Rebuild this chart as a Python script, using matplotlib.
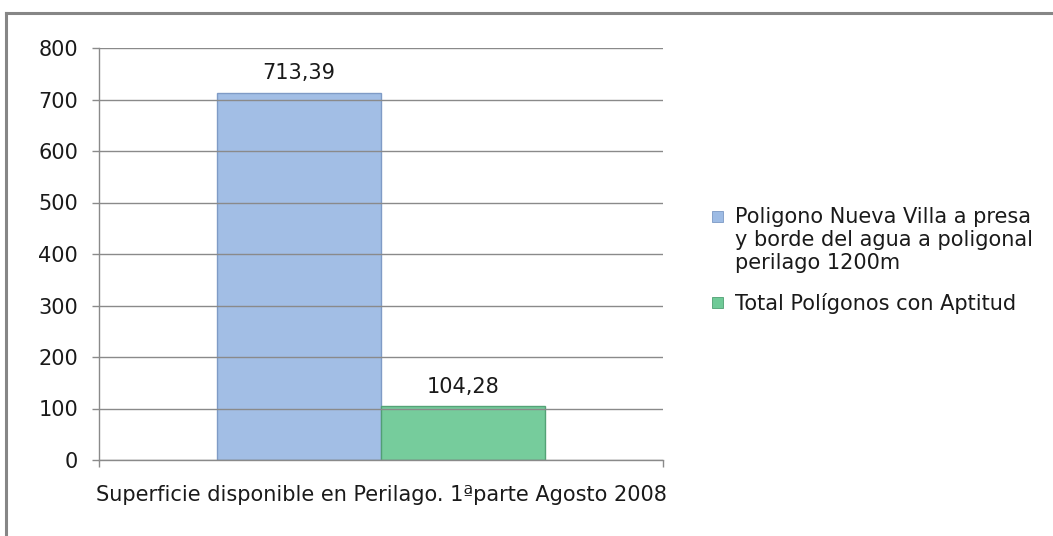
import matplotlib
matplotlib.use("Agg")
import matplotlib.pyplot as plt
from matplotlib.lines import Line2D
from matplotlib.patches import Rectangle

plt.rcParams['font.family'] = ['DejaVu Sans']

category = "Superficie disponible en Perilago. 1ªparte Agosto 2008"
series_names = ["Poligono Nueva Villa a presa\ny borde del agua a poligonal\nperilago 1200m",
                "Total Polígonos con Aptitud"]
values = [713.39, 104.28]
value_labels = ["713,39", "104,28"]
colors = ["#9dbbe4", "#6fca97"]
edge_colors = ["#7b98c4", "#4f9f72"]
yticks = [0, 100, 200, 300, 400, 500, 600, 700, 800]

FS = 15
TXT = "#1a1a1a"
W, H = 1053, 536
fig = plt.figure(figsize=(W / 100, H / 100), dpi=100)
fig.patch.set_facecolor("white")
ax = fig.add_axes([99 / W, (H - 460) / H, 564 / W, 412 / H])

bar_w = 0.29
offsets = [-bar_w / 2, bar_w / 2]
for i, (v, c, ec, lab) in enumerate(zip(values, colors, edge_colors, value_labels)):
    ax.bar(offsets[i], v, width=bar_w, color=c, edgecolor=ec, linewidth=1.0,
           zorder=2, alpha=0.95)
    ax.annotate(lab, (offsets[i], v), xytext=(0, 7), textcoords="offset points",
                ha="center", va="bottom", fontsize=FS, color=TXT)

ax.set_xlim(-0.5, 0.5)
ax.set_ylim(0, 800)
ax.set_yticks(yticks)
ax.set_yticklabels([str(t) for t in yticks], fontsize=FS, color=TXT)
ax.yaxis.grid(True, color="#8a8a8a", linewidth=1.0, zorder=3)
ax.set_axisbelow(False)
ax.tick_params(axis="y", length=5, width=1, color="#8a8a8a", pad=10, direction="out")

ax.set_xticks([0])
ax.set_xticklabels([category], fontsize=FS, color=TXT)
ax.tick_params(axis="x", which="major", length=0, pad=18)
ax.set_xticks([-0.5, 0.5], minor=True)
ax.tick_params(axis="x", which="minor", length=5, width=1, color="#8a8a8a", direction="out")

for s in ["top", "right"]:
    ax.spines[s].set_visible(False)
for s in ["left", "bottom"]:
    ax.spines[s].set_color("#8a8a8a")
    ax.spines[s].set_linewidth(1.0)

# legend (manual, Excel style: marker aligned with first line)
leg_x_marker = 712 / W
leg_x_text = 735 / W
leg_y = [217, 303]
for i, name in enumerate(series_names):
    y = 1 - leg_y[i] / H
    fig.add_artist(Rectangle((leg_x_marker, y - 5 / H), 11 / W, 11 / H,
                             transform=fig.transFigure, facecolor=colors[i],
                             edgecolor=edge_colors[i], linewidth=0.6))
    for j, line in enumerate(name.split("\n")):
        fig.text(leg_x_text, y - j * 23 / H, line, fontsize=FS, color=TXT,
                 ha="left", va="center")

# outer frame (top and left only)
fig.add_artist(Line2D([6 / W, 1.0], [1 - 12.5 / H, 1 - 12.5 / H], transform=fig.transFigure,
                      color="#868686", linewidth=2.2))
fig.add_artist(Line2D([6 / W, 6 / W], [0, 1 - 12.5 / H], transform=fig.transFigure,
                      color="#868686", linewidth=2.2))

fig.savefig("out.png", dpi=100)
